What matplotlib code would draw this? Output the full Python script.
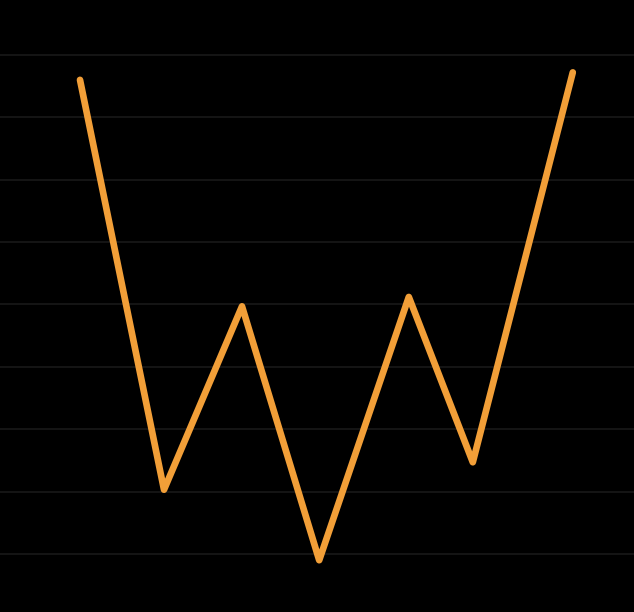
import matplotlib
matplotlib.use("Agg")
import matplotlib.pyplot as plt

# data
x_values = [10.0, 20.5, 30.25, 39.9, 51.1, 59.1, 71.6]
y_values = [7.60, 1.03, 3.97, -0.10, 4.12, 1.47, 7.72]
grid_levels = [0, 1, 2, 3, 4, 5, 6, 7, 8]

fig = plt.figure(figsize=(6.34, 6.12), dpi=100, facecolor="black")
ax = fig.add_axes([0, 0, 1, 1])
ax.set_facecolor("black")

ax.plot(x_values, y_values, color="#f29f38", linewidth=4.8,
        solid_capstyle="round", solid_joinstyle="round", zorder=3)

ax.set_xlim(0, 79.25)
ax.set_ylim(-0.93, 8.88)
ax.set_yticks(grid_levels)
ax.set_xticks([])
ax.grid(axis="y", color="#151515", linewidth=1.4)
ax.tick_params(left=False, labelleft=False, bottom=False, labelbottom=False)
for s in ax.spines.values():
    s.set_visible(False)

fig.savefig("out.png", dpi=100, facecolor="black")
